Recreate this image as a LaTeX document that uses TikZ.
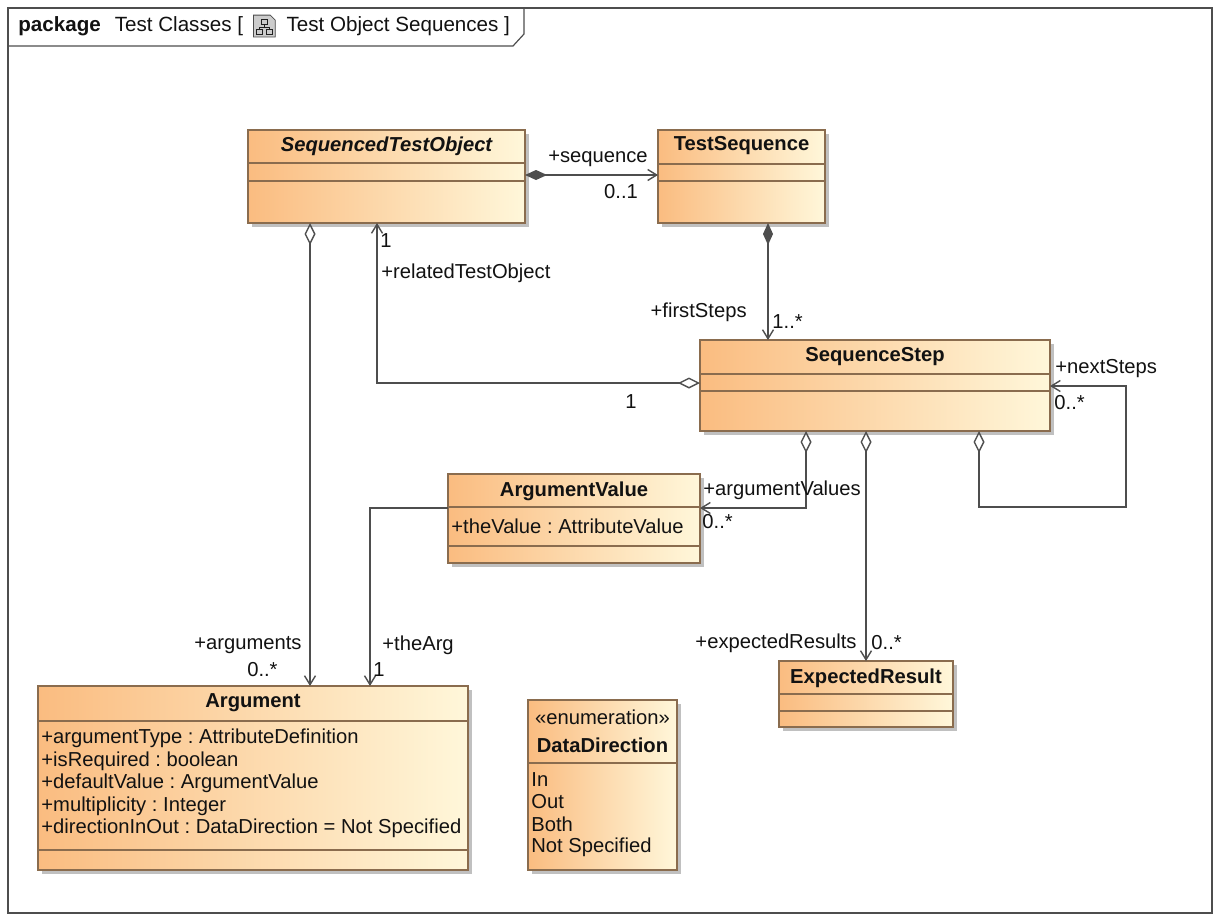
\documentclass[tikz,border=0pt]{standalone}
\usepackage{fontspec}
\setmainfont{Liberation Sans}
\usetikzlibrary{arrows.meta,calc,shadows,positioning}
\definecolor{boxline}{RGB}{138,108,78}
\definecolor{orl}{RGB}{250,188,128}
\definecolor{orr}{RGB}{255,247,218}
\definecolor{wirec}{RGB}{78,78,78}
\definecolor{txt}{RGB}{18,18,18}
\frenchspacing
\begin{document}
\begin{tikzpicture}[x=0.5pt,y=-0.5pt,
  font=\fontsize{10.1}{11.5}\selectfont, text=txt,
  cls/.style={draw=boxline, line width=0.6pt, left color=orl, right color=orr,
    anchor=north west, inner sep=0pt, outer sep=0pt,
    drop shadow={shadow xshift=2pt, shadow yshift=-2pt, fill=black!35, opacity=0.7}},
  box/.style 2 args={cls, minimum width=#1*0.5pt, minimum height=#2*0.5pt},
  div/.style={draw=boxline, line width=0.6pt},
  nm/.style={inner sep=0pt, font=\fontsize{10.1}{11.5}\selectfont\bfseries},
  attr/.style={inner sep=0pt, anchor=west},
  lbl/.style={inner sep=0pt, anchor=west},
  lblr/.style={inner sep=0pt, anchor=east},
  assoc/.style={draw=wirec, line width=0.7pt},
  navtip/.tip={Straight Barb[length=4.5pt, width=5.5pt]},
  aggtip/.tip={Diamond[length=11pt, width=5.5pt, fill=white]},
  comptip/.tip={Diamond[length=11pt, width=5pt, fill=wirec]}
]
\useasboundingbox (0,0) rectangle (1219,921);
\fill[white] (0,0) rectangle (1219,921);

% frame
\draw[draw=wirec, line width=0.6pt] (8,8) rectangle (1212,913);
\draw[draw=wirec, line width=0.6pt] (8,46) -- (513,46) -- (524,34) -- (524,8);
\node[lbl, font=\fontsize{10.3}{11.5}\selectfont] (hdr1) at (18,26) {\textbf{package}\hspace{7pt}Test Classes [};
\node[inner sep=0pt, minimum width=10.5pt, minimum height=10.5pt, right=5pt of hdr1] (icon) {};
\fill[gray!40, draw=gray!60!black, line width=0.4pt]
  (icon.north west) -- ($(icon.north east)+(-5,0)$) -- ($(icon.north east)+(0,5)$)
  -- (icon.south east) -- (icon.south west) -- cycle;
\draw[gray!25!black, line width=0.4pt]
  ($(icon.center)+(-3,-7)$) rectangle ($(icon.center)+(3,-2)$)
  ($(icon.center)+(0,-2)$) -- ($(icon.center)+(0,1)$)
  ($(icon.center)+(-5,1)$) -- ($(icon.center)+(5,1)$)
  ($(icon.center)+(-5,1)$) -- ($(icon.center)+(-5,3)$)
  ($(icon.center)+(5,1)$) -- ($(icon.center)+(5,3)$)
  ($(icon.center)+(-8,3)$) rectangle ($(icon.center)+(-2,8)$)
  ($(icon.center)+(2,3)$) rectangle ($(icon.center)+(8,8)$);
\node[lbl, right=5.5pt of icon, font=\fontsize{10.3}{11.5}\selectfont] (hdr2) {Test Object Sequences ]};

% classes
\node[box={277}{93}] (sto) at (248,130) {};
\draw[div] ($(sto.north west)+(0,33)$) -- ($(sto.north east)+(0,33)$);
\draw[div] ($(sto.north west)+(0,51)$) -- ($(sto.north east)+(0,51)$);
\node[nm] (stoname) at ($(sto.north)+(0,16)$) {\itshape SequencedTestObject};

\node[box={167}{93}] (ts) at (658,130) {};
\draw[div] ($(ts.north west)+(0,34)$) -- ($(ts.north east)+(0,34)$);
\draw[div] ($(ts.north west)+(0,51)$) -- ($(ts.north east)+(0,51)$);
\node[nm] (tsname) at ($(ts.north)+(0,16)$) {TestSequence};

\node[box={350}{91}] (ss) at (700,340) {};
\draw[div] ($(ss.north west)+(0,34)$) -- ($(ss.north east)+(0,34)$);
\draw[div] ($(ss.north west)+(0,51)$) -- ($(ss.north east)+(0,51)$);
\node[nm] (ssname) at ($(ss.north)+(0,17)$) {SequenceStep};

\node[box={252}{89}] (av) at (448,474) {};
\draw[div] ($(av.north west)+(0,33)$) -- ($(av.north east)+(0,33)$);
\draw[div] ($(av.north west)+(0,72)$) -- ($(av.north east)+(0,72)$);
\node[nm] (avname) at ($(av.north)+(0,17)$) {ArgumentValue};
\node[attr] (av1) at ($(av.north west)+(3,52)$) {+theValue : AttributeValue};

\node[box={430}{184}] (arg) at (38,686) {};
\draw[div] ($(arg.north west)+(0,35)$) -- ($(arg.north east)+(0,35)$);
\draw[div] ($(arg.north west)+(0,164)$) -- ($(arg.north east)+(0,164)$);
\node[nm] (argname) at ($(arg.north)+(0,17)$) {Argument};
\node[attr] (arg1) at ($(arg.north west)+(3,52)$) {+argumentType : AttributeDefinition};
\node[attr] (arg2) at ($(arg.north west)+(3,75)$) {+isRequired : boolean};
\node[attr] (arg3) at ($(arg.north west)+(3,97)$) {+defaultValue : ArgumentValue};
\node[attr] (arg4) at ($(arg.north west)+(3,120)$) {+multiplicity : Integer};
\node[attr] (arg5) at ($(arg.north west)+(3,142)$) {+directionInOut : DataDirection = Not Specified};

\node[box={174}{66}] (er) at (779,661) {};
\draw[div] ($(er.north west)+(0,33)$) -- ($(er.north east)+(0,33)$);
\draw[div] ($(er.north west)+(0,50)$) -- ($(er.north east)+(0,50)$);
\node[nm] (ername) at ($(er.north)+(0,17)$) {ExpectedResult};

\node[box={149}{170}] (dd) at (528,700) {};
\draw[div] ($(dd.north west)+(0,63)$) -- ($(dd.north east)+(0,63)$);
\node[inner sep=0pt] (ddst) at ($(dd.north)+(0,17)$) {«enumeration»};
\node[nm] (ddname) at ($(dd.north)+(0,45)$) {DataDirection};
\node[attr] (dd1) at ($(dd.north west)+(3,80)$) {In};
\node[attr] (dd2) at ($(dd.north west)+(3,102)$) {Out};
\node[attr] (dd3) at ($(dd.north west)+(3,124)$) {Both};
\node[attr] (dd4) at ($(dd.north west)+(3,147)$) {Not Specified};

% connectors
\draw[assoc, comptip-navtip] ($(sto.north east)+(0,45)$) -- ($(ts.north west)+(0,45)$);
\node[inner sep=0pt] (l1) at (598,159) {+sequence};
\node[inner sep=0pt] (l2) at (621,192) {0..1};

\draw[assoc, comptip-navtip] ($(ts.south west)+(110,0)$) -- ($(ss.north west)+(68,0)$);
\node[lblr] (l3) at (747,312) {+firstSteps};
\node[lbl] (l4) at (772,322) {1..*};

\draw[assoc, aggtip-navtip] ($(ss.north west)+(0,43)$) -| ($(sto.south west)+(129,0)$);
\node[lbl] (l5) at (380,241) {1};
\node[lbl] (l6) at (381,273) {+relatedTestObject};
\node[inner sep=0pt] (l7) at (631,402) {1};

\coordinate (loopc) at (1126,507);
\draw[assoc, aggtip-navtip] ($(ss.south west)+(279,0)$) |- (loopc) |- ($(ss.north east)+(0,46)$);
\node[lbl] (l8) at (1055,369) {+nextSteps};
\node[lbl] (l9) at (1054,403) {0..*};

\draw[assoc, aggtip-navtip] ($(ss.south west)+(106,0)$) |- ($(av.north east)+(0,34)$);
\node[lbl] (l10) at (703,490) {+argumentValues};
\node[lbl] (l11) at (702,522) {0..*};

\draw[assoc, aggtip-navtip] ($(ss.south west)+(166,0)$) -- ($(er.north west)+(87,0)$);
\node[lblr] (l12) at (857,643) {+expectedResults};
\node[lbl] (l13) at (871,643) {0..*};

\draw[assoc, -navtip] ($(av.north west)+(0,34)$) -| ($(arg.north west)+(332,0)$);
\node[lbl] (l14) at (382,645) {+theArg};
\node[lbl] (l15) at (373,670) {1};

\draw[assoc, aggtip-navtip] ($(sto.south west)+(62,0)$) -- ($(arg.north west)+(272,0)$);
\node[lblr] (l16) at (302,645) {+arguments};
\node[lblr] (l17) at (278,670) {0..*};
\end{tikzpicture}
\end{document}
